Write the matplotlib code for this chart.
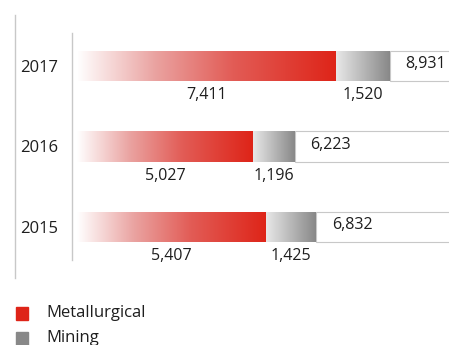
import numpy as np
import matplotlib.pyplot as plt
from matplotlib.colors import LinearSegmentedColormap
from matplotlib.lines import Line2D
from matplotlib.patches import Rectangle

years = ["2015", "2016", "2017"]
metallurgical = [5407, 5027, 7411]
mining = [1425, 1196, 1520]
totals = [6832, 6223, 8931]
metal_labels = ["5,407", "5,027", "7,411"]
mining_labels = ["1,425", "1,196", "1,520"]
total_labels = ["6,832", "6,223", "8,931"]

RED = "#de2418"
GRAY = "#888888"
red_cmap = LinearSegmentedColormap.from_list(
    "red", [(0, "#ffffff"), (0.3, "#eaa3a1"), (0.6, "#e25c56"), (1, RED)])
gray_cmap = LinearSegmentedColormap.from_list("gray", ["#e8e8e8", GRAY])

plt.rcParams["font.family"] = ["Open Sans", "DejaVu Sans"]
TXT = "#1e1e1e"

fig = plt.figure(figsize=(4.49, 3.45), dpi=100)
ax = fig.add_axes([72 / 449, 1 - 260 / 345, 1 - 72 / 449, (260 - 33) / 345])

y = np.arange(len(years))
h = 0.385
xmax = 10628
grad = np.linspace(0, 1, 256).reshape(1, -1)

# white outlined box behind the total, running off the right edge
ax.barh(y, [xmax * 2] * len(y), left=totals, height=h, color="white",
        edgecolor="#c8c8c8", linewidth=0.8, zorder=1)

red_bars = ax.barh(y, metallurgical, height=h, color="none", zorder=2)
gray_bars = ax.barh(y, mining, left=metallurgical, height=h, color="none", zorder=2)

for bars, cmap in ((red_bars, red_cmap), (gray_bars, gray_cmap)):
    for b in bars:
        x0, y0 = b.get_x(), b.get_y()
        im = ax.imshow(grad, cmap=cmap, aspect="auto", zorder=2,
                       extent=[x0, x0 + b.get_width(), y0, y0 + b.get_height()])
        im.set_clip_path(b)

for i in range(len(y)):
    ax.text(metallurgical[i] / 2, y[i] - h / 2 - 0.17, metal_labels[i],
            ha="center", va="center", fontsize=11.5, color=TXT)
    ax.text(metallurgical[i] + mining[i] / 2, y[i] - h / 2 - 0.17, mining_labels[i],
            ha="center", va="center", fontsize=11.5, color=TXT)
    ax.text(totals[i] + 450, y[i] + 0.02, total_labels[i],
            ha="left", va="center", fontsize=11.5, color=TXT)

ax.set_xlim(-143, xmax)
ax.set_ylim(-0.41, 2.41)
ax.set_yticks(y)
ax.set_yticklabels(years, fontsize=12, color=TXT)
ax.tick_params(axis="y", length=0, pad=10)
ax.set_xticks([])
for s in ("top", "right", "bottom"):
    ax.spines[s].set_visible(False)
ax.spines["left"].set_color("#c8c8c8")
ax.spines["left"].set_linewidth(1.0)

# outer frame line
fig.add_artist(Line2D([15 / 449, 15 / 449], [1 - 15 / 345, 1 - 278 / 345],
                      color="#c8c8c8", linewidth=1.0))

# legend
for label, color, yc in (("Metallurgical", RED, 313), ("Mining", GRAY, 338)):
    fig.add_artist(Rectangle((16 / 449, 1 - (yc + 6.5) / 345), 12 / 449, 13 / 345,
                             transform=fig.transFigure, color=color))
    fig.text(46 / 449, 1 - yc / 345, label, ha="left", va="center",
             fontsize=12, color=TXT)

fig.savefig("out.png", dpi=100)
